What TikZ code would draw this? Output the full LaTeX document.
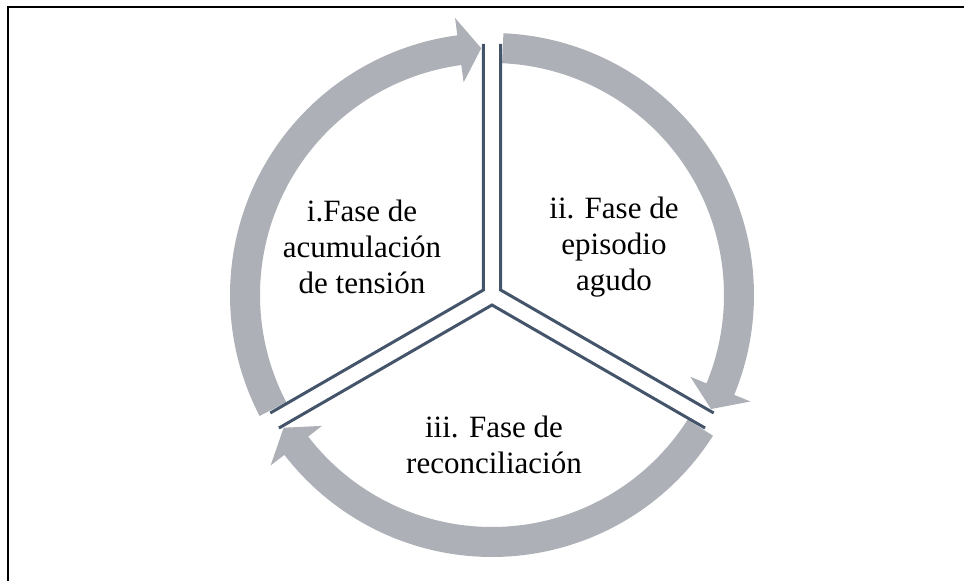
\documentclass[tikz,border=0pt]{standalone}
\usepackage{fontspec}
\setmainfont{Liberation Serif}
\usepackage{tikz}
\usetikzlibrary{calc}
\definecolor{ringgray}{RGB}{173,176,183}
\definecolor{spokeblue}{RGB}{68,84,106}
\tikzstyle{band} = [fill = ringgray, draw = none]
\tikzstyle{spoke} = [draw = spokeblue, line width = 3pt, line join = miter]
\tikzstyle{phase} = [align = center, font = \fontsize{31}{36}\selectfont]
\tikzstyle{frame} = [draw = black, line width = 1.5pt]

\begin{document}
\begin{tikzpicture}[x=1pt,y=1pt]
	\useasboundingbox (-492,-286) rectangle (472,295);
	
	% Frame, only its top and left edges show
	\coordinate (tr) at (472,288);
	\coordinate (tl) at (-484,288);
	\coordinate (bl) at (-484,-286);
	\draw[frame] (tr) -- (tl) -- (bl);
	
	% Ring arrows, running clockwise
	\foreach \s/\t in {207.5/92.5, 87.5/-27.5, -32.5/-147.5}
	{
		\pgfmathsetmacro{\b}{\t+5.1}
		\fill[band] (\s:262pt) arc[start angle=\s, end angle=\b, radius=262pt]
			-- (\b:279.5pt) -- (\t:247pt) -- (\b:214.5pt) -- (\b:232pt)
			arc[start angle=\b, end angle=\s, radius=232pt] -- cycle;
	}
	
	% Double spokes: one wedge per phase, pushed out along its bisector
	\foreach \bis/\ea/\eb/\name in {150/90/210/i, 30/90/-30/ii, 270/210/330/iii}
	{
		\coordinate (v\name) at (\bis:10pt);
		\draw[spoke] ($(v\name)+(\ea:246pt)$) -- (v\name) -- ($(v\name)+(\eb:246pt)$);
	}
	
	% Phase labels
	\node[phase] (fase1) at (-130,48) {i.Fase de\\acumulación\\de tensión};
	\node[phase] (fase2) at (122,48) {ii. Fase de\\episodio\\agudo};
	\node[phase] (fase3) at (2,-150) {iii. Fase de\\reconciliación};
	
\end{tikzpicture}
\end{document}
